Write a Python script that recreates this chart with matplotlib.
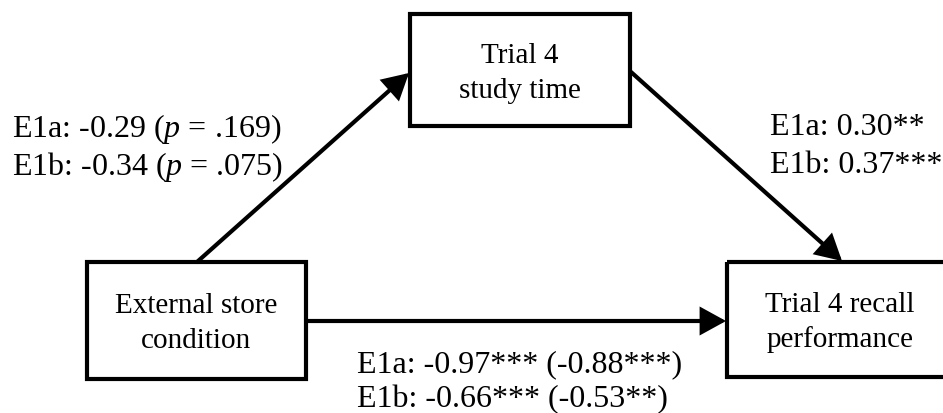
import matplotlib
matplotlib.use("Agg")
import matplotlib.pyplot as plt
from matplotlib.patches import Rectangle, FancyArrowPatch

plt.rcParams["font.family"] = ["Liberation Serif", "DejaVu Serif"]
plt.rcParams["mathtext.fontset"] = "custom"
plt.rcParams["mathtext.rm"] = "Liberation Serif"
plt.rcParams["mathtext.it"] = "Liberation Serif:italic"

# node labels
mediator_label = ["Trial 4", "study time"]
predictor_label = ["External store", "condition"]
outcome_label = ["Trial 4 recall", "performance"]

# path coefficients
path_a = ["E1a: -0.29 ($p$ = .169)", "E1b: -0.34 ($p$ = .075)"]
path_b = ["E1a: 0.30**", "E1b: 0.37***"]
path_c = ["E1a: -0.97*** (-0.88***)", "E1b: -0.66*** (-0.53**)"]

W, H = 943, 414
fig = plt.figure(figsize=(W / 100, H / 100), dpi=100)
ax = fig.add_axes([0, 0, 1, 1])
ax.set_xlim(0, W)
ax.set_ylim(H, 0)
ax.axis("off")

LW = 3.0
BOX_FS = 21
LAB_FS = 23

# boxes: (x, y, w, h) in pixel coords; the outcome box runs off the right edge
boxes = {
    "mediator": (410, 15, 220, 112),
    "predictor": (87, 263, 219, 117),
    "outcome": (727, 263, 400, 115),
}
for x, y, w, h in boxes.values():
    ax.add_patch(Rectangle((x, y), w, h, fill=False, edgecolor="black",
                           linewidth=LW, clip_on=True))


def box_text(lines, cx, baselines):
    for line, yb in zip(lines, baselines):
        ax.text(cx, yb, line, ha="center", va="baseline", fontsize=BOX_FS)


box_text(mediator_label, 520, [63, 98])
box_text(predictor_label, 196, [313, 348])
box_text(outcome_label, 840, [312, 347])


def arrow(p0, p1):
    ax.add_patch(FancyArrowPatch(p0, p1, arrowstyle="-|>,head_length=0.4,head_width=0.22",
                                 mutation_scale=36, linewidth=LW, color="black",
                                 shrinkA=0, shrinkB=0, joinstyle="miter"))


arrow((197, 263), (409, 74))
arrow((631, 73), (842, 262))
arrow((306, 322), (726, 322))


def label(lines, x, baselines):
    for line, yb in zip(lines, baselines):
        ax.text(x, yb, line, ha="left", va="baseline", fontsize=LAB_FS)


label(path_a, 12, [137, 175])
label(path_b, 770, [135, 173])
label(path_c, 357, [372, 407])

fig.savefig("out.png", dpi=100, facecolor="white")
